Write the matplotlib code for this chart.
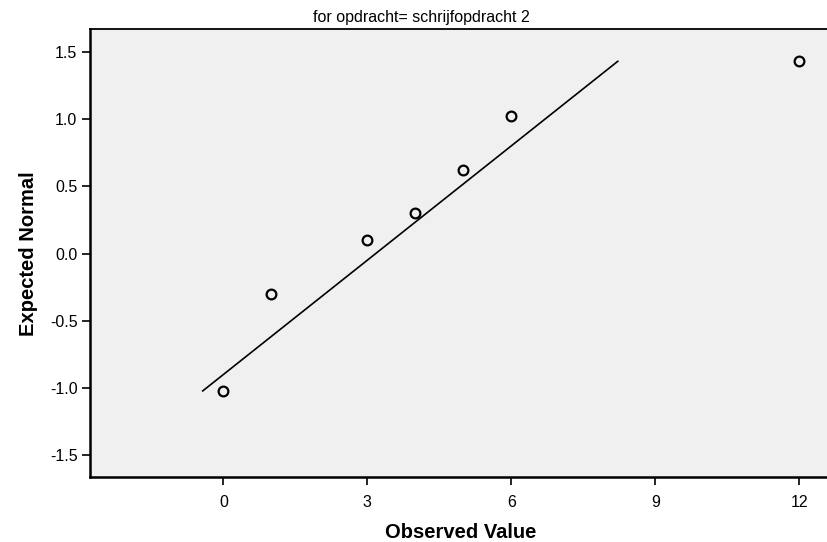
import matplotlib.pyplot as plt

plt.rcParams["font.family"] = ["Liberation Sans", "DejaVu Sans"]

# observed values and their expected normal scores
observed = [0, 1, 3, 4, 5, 6, 12]
expected = [-1.02, -0.30, 0.10, 0.30, 0.62, 1.02, 1.43]

# reference line endpoints
line_x = [-0.43, 8.22]
line_y = [-1.02, 1.43]

x_ticks = [0, 3, 6, 9, 12]
y_ticks = [-1.5, -1.0, -0.5, 0.0, 0.5, 1.0, 1.5]


def main():
    fig = plt.figure(figsize=(8.27, 5.42), dpi=100)
    ax = fig.add_axes([90 / 827, 1 - 477 / 542, 737 / 827, 448 / 542])
    ax.set_facecolor("#f0f0f0")

    ax.plot(line_x, line_y, color="black", linewidth=1.2)
    ax.plot(observed, expected, linestyle="", marker="o", markersize=7,
            markerfacecolor="none", markeredgecolor="black",
            markeredgewidth=1.6)

    ax.set_xlim(-2.78, 12.58)
    ax.set_ylim(-1.66, 1.67)
    ax.set_xticks(x_ticks)
    ax.set_xticklabels([str(t) for t in x_ticks])
    ax.set_yticks(y_ticks)
    ax.set_yticklabels([f"{t:.1f}" for t in y_ticks])
    ax.tick_params(direction="out", length=6, width=1.2, labelsize=11.5)
    ax.tick_params(axis="x", pad=7)
    ax.tick_params(axis="y", pad=3)

    for side in ["left", "bottom"]:
        ax.spines[side].set_linewidth(1.8)
    ax.spines["top"].set_linewidth(1.3)
    ax.spines["right"].set_visible(False)

    fig.text(421 / 827, 1 - 22 / 542, "for opdracht= schrijfopdracht 2",
             ha="center", va="baseline", fontsize=11.5)
    fig.text(461 / 827, 1 - 538 / 542, "Observed Value", ha="center",
             va="baseline", fontsize=14.5, fontweight="bold")
    fig.text(29 / 827, 1 - 254 / 542, "Expected Normal", ha="center",
             va="center", rotation=90, fontsize=14.5, fontweight="bold")

    fig.savefig("out.png", dpi=100)


if __name__ == "__main__":
    main()
